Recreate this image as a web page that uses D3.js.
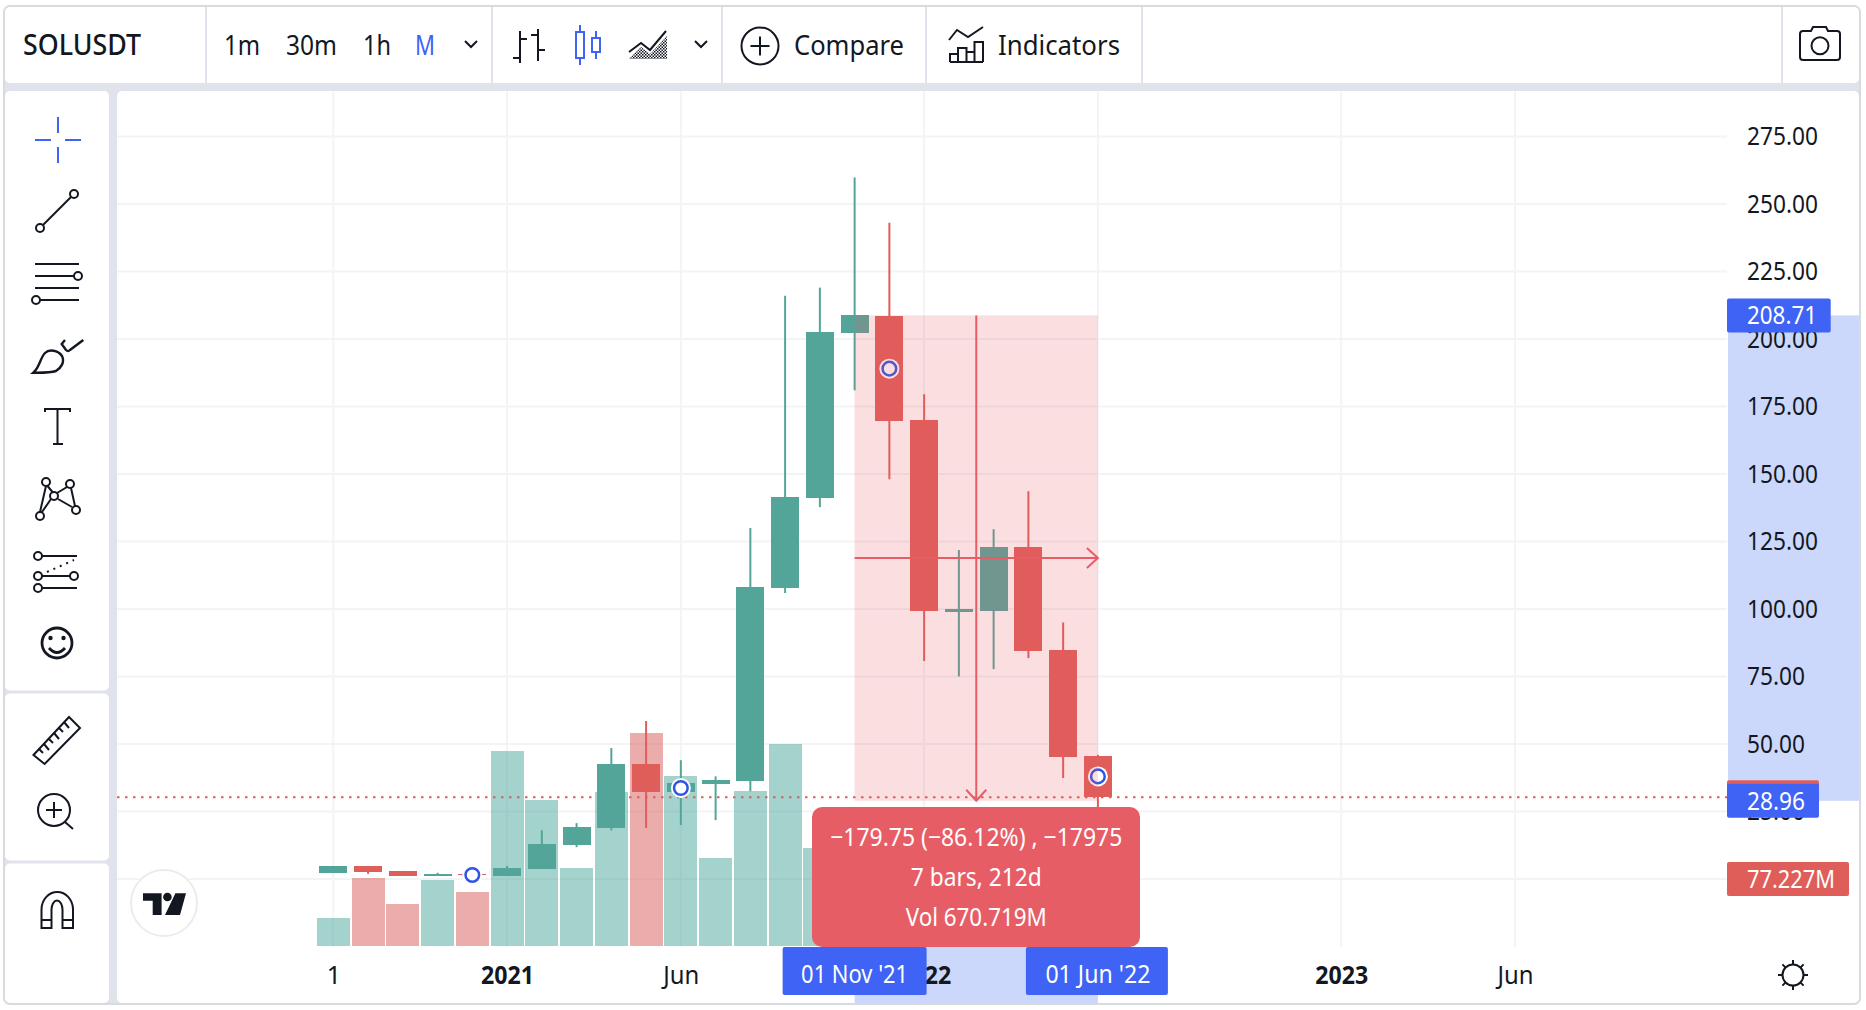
<!DOCTYPE html>
<html><head><meta charset="utf-8">
<script src="https://cdn.jsdelivr.net/npm/d3@7/dist/d3.min.js"></script>
<style>html,body{margin:0;padding:0;background:#fff;overflow:hidden}svg{display:block}
text{font-family:"Noto Sans",sans-serif;fill:#131722}</style></head><body>
<svg id="c" width="1866" height="1010"></svg>
<script>
// ---- data ----
const months=["Aug 20","Sep 20","Oct 20","Nov 20","Dec 20","Jan 21","Feb 21","Mar 21","Apr 21","May 21","Jun 21","Jul 21","Aug 21","Sep 21","Oct 21","Nov 21","Dec 21","Jan 22","Feb 22","Mar 22","Apr 22","May 22","Jun 22"];
const opens =[2.2,4.8,3.0,1.1,1.9,1.1,3.7,12.6,18.9,42.6,32.2,35.2,36.3,107.7,141,202.1,208.4,170,99,99.3,122.9,84.8,45.5];
const closes=[4.8,2.6,1.1,1.9,1.5,4.1,13,19.2,42.6,32.2,35.5,36.6,108,141.4,202.5,208.7,169.5,99.3,100,122.9,84.4,45.2,30.3];
const highs =[4.8,4.8,3.0,2.3,1.9,4.8,18,20.7,48.5,58.5,44,38,130,216,219,259.8,243,179.5,121.8,129.5,143.6,95,46];
const lows  =[2.2,1.9,1.1,1.1,1.5,1.1,3.7,11.8,18,18.9,20,21.8,32.5,105.9,137.7,181,148,80.7,75,77.7,81.8,37.4,26];
const volumes=[32,78,48,76,62,225,168,90,178,245,196,101,179,233,113,105,100,110,100,90,85,80.7,77.227];
const markerIdx=[4,10,16,22];
const markerVal=[1.5,33.7,189,38];
const priceTicks=[25,50,75,100,125,150,175,200,225,250,275];
const timeTickIdx=[0,5,10,17,22,29,34];
const timeTickLabels=["1","2021","Jun","2022","Jun","2023","Jun"];
const boldTicks=["2021","2022","2023"];
const rangeFrom=15, rangeTo=22, priceFrom=208.71, priceTo=28.96, lastClose=30.3, lastVol=77.227;
const tooltipLines=["−179.75 (−86.12%) , −17975","7 bars, 212d","Vol 670.719M"];

const TEAL="#53a59a",RED="#e05e59",BLUE="#3e63f5",BAND="#cbd8fb",GRID="#f3f4f5",PANEL="#e0e3eb",INK="#131722",PINK="#e85c64";
const FS=25, FT=28;
const svg=d3.select("#c");
const x=d3.scaleLinear().domain([0,22]).range([333.3,1097.9]);
const y=d3.scaleLinear().domain([0,275]).range([879,136.4]);
const yV=d3.scaleLinear().domain([0,77.227]).range([946,879]);
const idx=d3.range(months.length);

function T(g,s,px,cy,size,o={}){
  const t=g.append("text").text(s).attr("x",px).attr("y",cy).attr("dy",".35em").attr("font-size",size);
  if(o.fill)t.style("fill",o.fill); if(o.anchor)t.attr("text-anchor",o.anchor);
  if(o.weight)t.attr("font-weight",o.weight);
  if(o.len)t.attr("textLength",o.len).attr("lengthAdjust","spacingAndGlyphs");
  return t;
}
// frame + panels
svg.append("rect").attr("x",4).attr("y",6).attr("width",1856).attr("height",998).attr("rx",6).attr("fill",PANEL).attr("stroke","#d9dadc").attr("stroke-width",2);
const chrome=svg.append("g");
const panel=(a,b,w,h,r)=>chrome.append("rect").attr("x",a).attr("y",b).attr("width",w).attr("height",h).attr("rx",r).attr("fill","#fff");
panel(5,7,1854,76,5);
panel(5,91,104,599.5,5);panel(5,693.5,104,167,5);panel(5,863.5,104,139.5,5);
panel(117,91,1742,912,5);
[206,492,722,926,1142,1782].forEach(v=>chrome.append("line").attr("x1",v).attr("x2",v).attr("y1",7).attr("y2",83).attr("stroke",PANEL).attr("stroke-width",2));

// grid
const plot=svg.append("g");
const gridY=[0].concat(priceTicks);
plot.selectAll(".gh").data(gridY).join("line").attr("x1",117).attr("x2",1727).attr("y1",d=>y(d)).attr("y2",d=>y(d)).attr("stroke",GRID).attr("stroke-width",2);
plot.selectAll(".gv").data(timeTickIdx).join("line").attr("x1",d=>x(d)).attr("x2",d=>x(d)).attr("y1",91).attr("y2",947).attr("stroke",GRID).attr("stroke-width",2);

// bands on axes
plot.append("rect").attr("x",1728).attr("width",131).attr("y",y(priceFrom)).attr("height",y(priceTo)-y(priceFrom)).attr("fill",BAND);
plot.append("rect").attr("x",x(rangeFrom)).attr("width",x(rangeTo)-x(rangeFrom)).attr("y",947).attr("height",56).attr("fill",BAND);

// volume
plot.append("g").selectAll("rect").data(idx).join("rect")
 .attr("x",i=>x(i)-16.5).attr("width",33).attr("y",i=>yV(volumes[i])).attr("height",i=>946-yV(volumes[i]))
 .attr("fill",i=>closes[i]>=opens[i]?"#53aaa0":"#d85c58").attr("fill-opacity",i=>closes[i]>=opens[i]?.53:.5).attr("shape-rendering","crispEdges");
// last-price line
plot.append("line").attr("x1",117).attr("x2",1727).attr("y1",y(lastClose)).attr("y2",y(lastClose)).attr("stroke",RED).attr("stroke-width",2).attr("stroke-dasharray","2.5 5.5");
// candles
const cg=plot.append("g");
cg.selectAll(".w").data(idx).join("line").attr("x1",i=>x(i)).attr("x2",i=>x(i)).attr("y1",i=>y(highs[i])).attr("y2",i=>y(lows[i]))
 .attr("stroke",i=>closes[i]>=opens[i]?TEAL:RED).attr("stroke-width",2);
cg.selectAll(".b").data(idx).join("rect").attr("x",i=>x(i)-14).attr("width",28)
 .attr("y",i=>y(Math.max(opens[i],closes[i]))).attr("height",i=>Math.max(1.5,Math.abs(y(opens[i])-y(closes[i]))))
 .attr("fill",i=>closes[i]>=opens[i]?TEAL:RED).attr("shape-rendering","crispEdges");
// markers
const mg=plot.append("g");
markerIdx.forEach((m,k)=>{
  mg.append("circle").attr("cx",x(m)).attr("cy",y(markerVal[k])).attr("r",10).attr("fill","#fff");
  mg.append("circle").attr("cx",x(m)).attr("cy",y(markerVal[k])).attr("r",6.8).attr("fill","#fff").attr("stroke","#2f55e6").attr("stroke-width",2.5);
});
// range overlay + arrows
const rx0=x(rangeFrom),rx1=x(rangeTo),ry0=y(priceFrom),ry1=y(priceTo),mx=(rx0+rx1)/2,my=(ry0+ry1)/2;
plot.append("rect").attr("x",rx0).attr("width",rx1-rx0).attr("y",ry0).attr("height",ry1-ry0).attr("fill",PINK).attr("fill-opacity",.2);
const ar=plot.append("g").attr("stroke",PINK).attr("stroke-width",2).attr("fill","none");
ar.append("line").attr("x1",mx).attr("x2",mx).attr("y1",ry0).attr("y2",ry1);
ar.append("line").attr("x1",rx0).attr("x2",rx1).attr("y1",my).attr("y2",my);
ar.append("path").attr("d",d3.line()([[mx-10,ry1-11],[mx,ry1],[mx+10,ry1-11]]));
ar.append("path").attr("d",d3.line()([[rx1-11,my-10],[rx1,my],[rx1-11,my+10]]));

// price axis
const pAxis=svg.append("g").attr("transform","translate(1747,0)").call(d3.axisRight(y).tickValues(priceTicks).tickFormat(d3.format(".2f")).tickSize(0).tickPadding(0));
pAxis.select(".domain").remove();
pAxis.selectAll("text").attr("font-size",FS).attr("font-family",null).attr("dy",".33em").style("fill",INK)
  .attr("textLength",d=>d>=100?71:58).attr("lengthAdjust","spacingAndGlyphs");
// time axis
const tAxis=svg.append("g").attr("transform","translate(0,947)").call(d3.axisBottom(x).tickValues(timeTickIdx).tickFormat((d,i)=>timeTickLabels[i]).tickSize(0).tickPadding(0));
tAxis.select(".domain").remove();
tAxis.selectAll("text").attr("font-size",FS).attr("y",null).attr("dy",null).attr("transform","translate(0,37)")
  .attr("font-weight",(d,i)=>boldTicks.includes(timeTickLabels[i])?700:400).style("fill",INK)
  .each(function(d,i){const s=timeTickLabels[i];if(s.length>1)d3.select(this).attr("textLength",s.length===4?53:36).attr("lengthAdjust","spacingAndGlyphs");});

// price labels
const lab=svg.append("g");
function priceLabel(val,w,fill,txt,tLen){
  const cy=y(val);
  lab.append("rect").attr("x",1727).attr("y",cy-17).attr("width",w).attr("height",34).attr("rx",2).attr("fill",fill);
  if(txt)T(lab,txt,1747,cy,FS,{fill:"#fff",len:tLen});
}
priceLabel(priceFrom,103.7,BLUE,d3.format(".2f")(priceFrom),70);
priceLabel(lastClose,92,RED,null);
priceLabel(priceTo,92,BLUE,d3.format(".2f")(priceTo),58);
lab.append("rect").attr("x",1727).attr("y",yV(lastVol)-17).attr("width",122).attr("height",34).attr("rx",2).attr("fill",RED);
T(lab,lastVol.toFixed(3)+"M",1747,yV(lastVol),FS,{fill:"#fff",len:88});
// date labels
function dateLabel(i,s,w,tLen){
  const cx=x(i);
  lab.append("rect").attr("x",cx-w[0]).attr("y",947).attr("width",w[0]+w[1]).attr("height",48).attr("rx",2).attr("fill",BLUE);
  T(lab,s,cx,974.5,FS,{fill:"#fff",anchor:"middle",len:tLen});
}
dateLabel(rangeFrom,"01 Nov '21",[72,72],107);
dateLabel(rangeTo,"01 Jun '22",[72,70],105);
// tooltip
lab.append("rect").attr("x",812).attr("y",807).attr("width",328).attr("height",140).attr("rx",10).attr("fill","#e75d66");
[837,877,917].forEach((cy,k)=>T(lab,tooltipLines[k],mx,cy,FS,{fill:"#fff",anchor:"middle",len:[292,131,141][k]}));

// toolbar text
const tb=svg.append("g");
T(tb,"SOLUSDT",23,45,FT,{weight:500,len:118});
T(tb,"1m",224,45,FT,{len:36});
T(tb,"30m",286,45,FT,{len:51});
T(tb,"1h",363,45,FT,{len:28});
T(tb,"M",415,45,FT,{fill:BLUE,len:20});
T(tb,"Compare",794,45,FT,{len:110});
T(tb,"Indicators",998,45,FT,{len:122});

// icons
const ic=svg.append("g").attr("fill","none").attr("stroke",INK).attr("stroke-width",2);
const P=(d,o={})=>{const p=ic.append("path").attr("d",d);for(const k in o)p.attr(k,o[k]);return p;};
const C=(cx,cy,r,o={})=>{const p=ic.append("circle").attr("cx",cx).attr("cy",cy).attr("r",r);for(const k in o)p.attr(k,o[k]);return p;};
// chevrons
P("M465 41l6 6l6-6");P("M695 41l6 6l6-6");
// bar icon
P("M520 31V63M520 39h7M520 58h-7M538 29V61M538 35h-7M538 50h7");
// candle icon
P("M580 25V32M580 58V65M596 31V38M596 52V59",{stroke:BLUE});
P("M576 32h8v26h-8zM592 38h8v14h-8z",{stroke:BLUE});
// area icon
const defs=svg.append("defs");
const pat=defs.append("pattern").attr("id","hatch").attr("width",3).attr("height",3).attr("patternUnits","userSpaceOnUse");
pat.append("rect").attr("width",1.5).attr("height",1.5).attr("fill",INK);
pat.append("rect").attr("x",1.5).attr("y",1.5).attr("width",1.5).attr("height",1.5).attr("fill",INK);
P("M629 59L641 47L650 54L667 36V59Z",{fill:"url(#hatch)",stroke:"none"});
P("M629 52L641 43L650 50L666 31");
// compare
C(760,46,18.5);P("M750.5 46h19M760 36.5v19");
// indicators
P("M949 40L957 30L968 37L983 27");
P("M950 62V54h8v8M958 62V48h8.5v14M966.5 62V52h8v10M974.5 62V42h8.5v20M950 62h33");
// camera
P("M1803 31h8l2-4h13l2 4h9a3 3 0 0 1 3 3v23a3 3 0 0 1-3 3h-34a3 3 0 0 1-3-3V34a3 3 0 0 1 3-3z");
C(1820,45.7,8.5);
// sun
C(1793,975,10.5);
P("M1793 960v5M1793 985v5M1778 975h5M1803 975h5M1782.4 964.4l3.5 3.5M1800.1 982.1l3.5 3.5M1803.6 964.4l-3.5 3.5M1785.9 982.1l-3.5 3.5");
// crosshair
P("M35 140h16M65 140h16M58 117v16M58 147v16",{stroke:BLUE});
// line tool
P("M43 225L71 197");C(74,194,4);C(40,228,4);
// parallel lines
P("M35 264h44M35 276h39M35 288h44M40 300h39");C(78,276,4);C(36,300,4);
// brush
P("M33.3 372.7C40 367 40 358 45 353C49 349 58 350 62 356C65 362 61 368 56 371C50 373 40 372.7 33.3 372.7Z",{"stroke-width":2.4});
P("M65 340L61.7 344L66 350Q68 352 70 350L83.3 340",{"stroke-width":2.4});
// text tool
P("M45 412V409H70V412M57.5 409V444M53 444H63");
// network
P("M46 486L40 512M47.5 486L52.5 492M57 493L67 487M71 488L75 506M58 499L72 507M51 499L42 512");
C(46,482,4);C(70,484,4);C(54,496,4);C(40,516,4);C(76,510,4);
// fib
P("M42 556H77M42 576H70M42 588H77");C(38,556,4);C(38,576,4);C(74,576,4);C(38,588,4);
P("M47 572L74 560",{"stroke-dasharray":"2 5"});
// smile
C(57,643,15,{"stroke-width":2.8});C(50.5,638,2.2,{fill:INK,stroke:"none"});C(63.5,638,2.2,{fill:INK,stroke:"none"});
P("M49 648Q57 657 65 648",{"stroke-width":2.8});
// ruler
P("M33.5 755L44.6 764L80 728L69 717Z");
P("M39 749l4 4M44 744l5 6M49 739l4 4M54 733l5 6M59 728l4 4M64 722l5 6");
// zoom
C(54,810,16);P("M65 822L73 829M46 810h16M54 802v16");
// magnet
P("M41.5 928V909.5A15.75 17.5 0 0 1 73 909.5V928H62.5V909.5A5.25 8.5 0 0 0 51.5 909.5V928ZM41.5 920H51.5M62.5 920H73");
// logo
C(164,903,33,{stroke:"#ececec",fill:"#fff"});
ic.append("path").attr("d","M143 893.3H161.6V915H152.7V900.7H143ZM175.4 893.3H186L180 915H165Z").attr("fill",INK).attr("stroke","none");
C(167.4,897,4.3,{fill:INK,stroke:"none"});
</script></body></html>
